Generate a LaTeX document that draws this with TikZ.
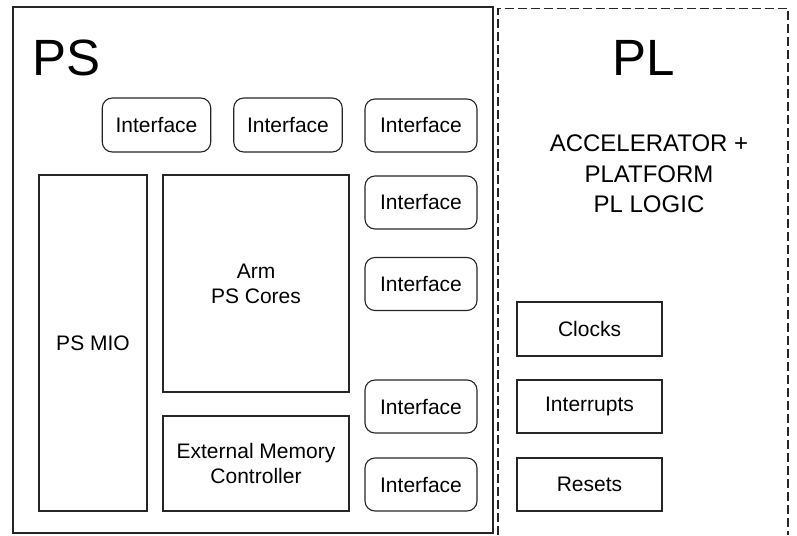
\documentclass[tikz,border=0pt]{standalone}
\usepackage{fontspec}
\setmainfont{Liberation Sans}
\begin{document}
\begin{tikzpicture}[x=1pt,y=-1pt,
  line width=1.1pt,
  every node/.style={inner sep=0pt, outer sep=0pt, text=black},
  lbl/.style={font=\fontsize{21}{25}\selectfont, align=center},
  sqbox/.style={lbl, draw=black!85},
  ifbox/.style={lbl, draw=black!85, rounded corners=10pt, minimum height=54pt},
  title/.style={font=\fontsize{51}{51}\selectfont},
  region/.style={draw=black!85},
  plregion/.style={draw=black!85, dash pattern=on 9pt off 4pt}
]
\useasboundingbox (0,0) rectangle (797,535);

% processing system and programmable logic regions
\draw[region] (13,7) rectangle (493,533);
\coordinate (plbl) at (498,535);
\coordinate (pltl) at (498,8.5);
\coordinate (pltr) at (788,8.5);
\coordinate (plbr) at (788,535);
\draw[plregion] (plbl) -- (pltl) -- (pltr) -- (plbr);

\node[title, anchor=base west] (ps) at (32,75) {PS};
\node[title, anchor=base] (pl) at (643.5,75) {PL};
\node[font=\fontsize{24}{30.5}\selectfont, align=center] (acc) at (649,174)
  {ACCELERATOR +\\PLATFORM\\PL LOGIC};

% PS blocks
\node[sqbox, minimum width=108pt, minimum height=336pt] (mio) at (93,343) {PS MIO};
\node[sqbox, minimum width=186pt, minimum height=217pt] (arm) at (256,283.5) {Arm\\PS Cores};
\node[sqbox, minimum width=186pt, minimum height=95pt] (emc) at (256,463.5) {External Memory\\Controller};

% interfaces
\node[ifbox, minimum width=108.5pt] (if1) at (156.5,125) {Interface};
\node[ifbox, minimum width=108.5pt] (if2) at (288,125) {Interface};
\node[ifbox, minimum width=112pt, minimum height=53pt] (if3) at (421,125.5) {Interface};
\node[ifbox, minimum width=112pt, minimum height=53pt] (if4) at (421,202.5) {Interface};
\node[ifbox, minimum width=112pt, minimum height=53pt] (if5) at (421,284) {Interface};
\node[ifbox, minimum width=112pt, minimum height=53pt] (if6) at (421,406.5) {Interface};
\node[ifbox, minimum width=112pt, minimum height=53pt] (if7) at (421,484.5) {Interface};

% PL blocks
\node[sqbox, minimum width=145pt, minimum height=54pt] (clk) at (589.5,329) {Clocks};
\node[sqbox, minimum width=145pt, minimum height=53pt] (irq) at (589.5,406.5) {Interrupts};
\node[sqbox, minimum width=145pt, minimum height=53pt] (rst) at (589.5,484.5) {Resets};
\end{tikzpicture}
\end{document}
